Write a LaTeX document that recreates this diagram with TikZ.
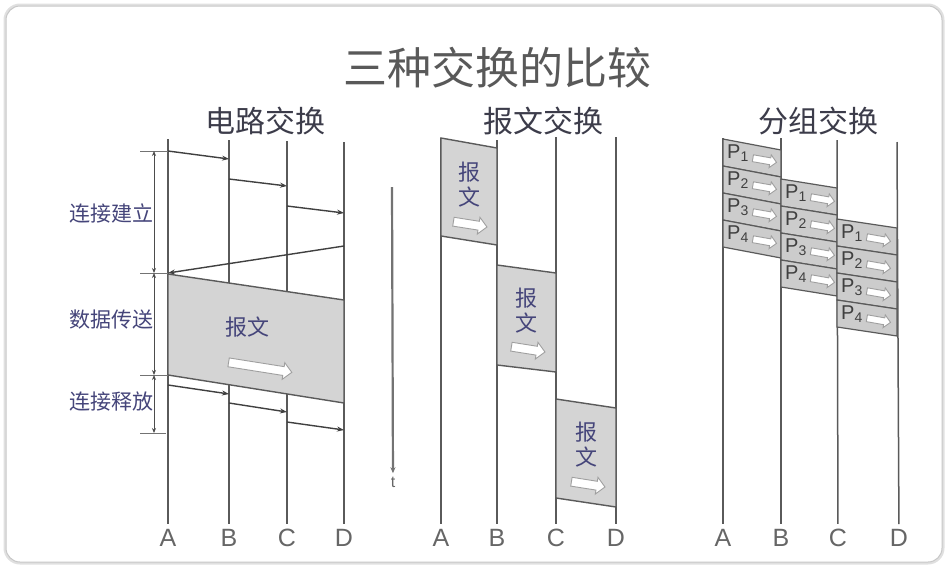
\documentclass[tikz,border=0pt]{standalone}
\usepackage{fontspec}
\setmainfont{Liberation Sans}
\newfontfamily\cjk{Noto Sans CJK SC}
\usetikzlibrary{shapes.arrows, arrows.meta}

\definecolor{linegray}{HTML}{5A5A5A}
\definecolor{labelblue}{HTML}{45457A}
\definecolor{headgray}{HTML}{3C3C4A}

\tikzset{
    timeline/.style={draw=linegray, line width=1.5pt},
    msgbox/.style={draw=linegray, fill=black!17, line width=1.4pt},
    pktbox/.style={draw=linegray, fill=black!20, line width=1.2pt},
    sig/.style={-{Stealth[length=7pt, width=5pt]}, draw=black!75, line width=1.4pt},
    dim/.style={{Stealth[length=5pt, width=4pt]}-{Stealth[length=5pt, width=4pt]}, draw=black!70, line width=1pt},
    tick/.style={draw=black!55, line width=1pt},
    hollow/.style={single arrow, draw=gray!75, fill=white, line width=0.9pt,
        inner xsep=0pt, inner ysep=4pt, single arrow head extend=4pt},
    stn/.style={font=\fontsize{25}{25}\selectfont, text=black!60, inner sep=5pt},
    head/.style={font=\cjk\fontsize{30}{30}\selectfont, text=headgray},
    phase/.style={font=\cjk\fontsize{21}{21}\selectfont, text=labelblue},
    msgtext/.style={font=\cjk\fontsize{22}{25}\selectfont, text=labelblue, align=center},
}

\begin{document}
\begin{tikzpicture}[x=1pt, y=-1pt]
    \useasboundingbox (0,0) rectangle (948,568);
    \draw[black!12, line width=3pt, rounded corners=15pt] (5,5) rectangle (943,563);
    \draw[black!22, line width=1pt, rounded corners=14pt, fill=white] (6,6) rectangle (942,562);

    \node[font=\cjk\fontsize{44}{44}\selectfont, text=black!65] at (497,68) (title) {三种交换的比较};

    % circuit switching
    \node[head] at (265,121) (hcirc) {电路交换};
    \node[stn] at (168,538) (cA) {A};
    \node[stn] at (229,538) (cB) {B};
    \node[stn] at (287,538) (cC) {C};
    \node[stn] at (344,538) (cD) {D};
    \coordinate (cAt) at (168,139);
    \coordinate (cBt) at (229,140);
    \coordinate (cCt) at (287,141);
    \coordinate (cDt) at (344,142);
    \draw[timeline] (cAt) -- (cA);
    \draw[timeline] (cBt) -- (cB);
    \draw[timeline] (cCt) -- (cC);
    \draw[timeline] (cDt) -- (cD);

    \coordinate (set1) at (168,151);
    \coordinate (set2) at (229,159);
    \coordinate (set3) at (229,179);
    \coordinate (set4) at (287,186);
    \coordinate (set5) at (287,206);
    \coordinate (set6) at (344,213);
    \coordinate (ack1) at (344,246);
    \coordinate (ack2) at (168,273);
    \draw[sig] (set1) -- (set2);
    \draw[sig] (set3) -- (set4);
    \draw[sig] (set5) -- (set6);
    \draw[sig] (ack1) -- (ack2);

    \coordinate (band1) at (168,274);
    \coordinate (band2) at (344,300);
    \coordinate (band3) at (344,403);
    \coordinate (band4) at (168,375);
    \draw[msgbox] (band1) -- (band2) -- (band3) -- (band4) -- cycle;
    \node[msgtext] at (247,327) (cmsg) {报文};
    \node[hollow, minimum height=64pt, rotate=-9] at (258,367) (carrow) {};

    \coordinate (rel1) at (168,385);
    \coordinate (rel2) at (229,394);
    \coordinate (rel3) at (229,403);
    \coordinate (rel4) at (287,412);
    \coordinate (rel5) at (287,422);
    \coordinate (rel6) at (344,430);
    \draw[sig] (rel1) -- (rel2);
    \draw[sig] (rel3) -- (rel4);
    \draw[sig] (rel5) -- (rel6);

    \coordinate (d1) at (154,151);
    \coordinate (d2) at (154,273);
    \coordinate (d3) at (154,375);
    \coordinate (d4) at (154,433);
    \draw[tick] (140,151) -- (168,151);
    \draw[tick] (140,273) -- (168,273);
    \draw[tick] (140,375) -- (168,375);
    \draw[tick] (140,433) -- (166,433);
    \draw[dim] (d1) -- (d2);
    \draw[dim] (d2) -- (d3);
    \draw[dim] (d3) -- (d4);
    \node[phase] at (111,213) (setup) {连接建立};
    \node[phase] at (111,320) (xfer) {数据传送};
    \node[phase] at (111,402) (release) {连接释放};

    % message switching
    \node[head] at (543,121) (hmsg) {报文交换};
    \node[stn] at (441,538) (mA) {A};
    \node[stn] at (497,538) (mB) {B};
    \node[stn] at (556,538) (mC) {C};
    \node[stn] at (616,538) (mD) {D};
    \coordinate (mAt) at (441,138);
    \coordinate (mBt) at (497,140);
    \coordinate (mCt) at (556,137);
    \coordinate (mDt) at (616,137);
    \draw[timeline] (mAt) -- (mA);
    \draw[timeline] (mBt) -- (mB);
    \draw[timeline] (mCt) -- (mC);
    \draw[timeline] (mDt) -- (mD);

    \draw[msgbox] (441,138) -- (497,148) -- (497,245) -- (441,236) -- cycle;
    \draw[msgbox] (497,265) -- (556,273) -- (556,372) -- (497,365) -- cycle;
    \draw[msgbox] (556,399) -- (616,408) -- (616,507) -- (556,498) -- cycle;
    \node[msgtext] at (469,185) (msg1) {报\\文};
    \node[msgtext] at (526,311) (msg2) {报\\文};
    \node[msgtext] at (586,445) (msg3) {报\\文};
    \node[hollow, minimum height=34pt, rotate=-9] at (468,224) (marrow1) {};
    \node[hollow, minimum height=34pt, rotate=-9] at (526,349) (marrow2) {};
    \node[hollow, minimum height=34pt, rotate=-9] at (586,484) (marrow3) {};

    \coordinate (tt) at (392,187);
    \node[font=\fontsize{16}{16}\selectfont, text=black!60] at (393,482) (t) {t};
    \draw[-{Stealth[length=6pt, width=5pt]}, draw=black!55, line width=2.2pt] (tt) -- (t);

    % packet switching
    \node[head] at (818,121) (hpkt) {分组交换};
    \node[stn] at (723,538) (pA) {A};
    \node[stn] at (781,538) (pB) {B};
    \node[stn] at (838,538) (pC) {C};
    \node[stn] at (899,538) (pD) {D};
    \coordinate (pAt) at (723,138);
    \coordinate (pBt) at (781,138);
    \coordinate (pCt) at (837,140);
    \coordinate (pDt) at (897,142);
    \draw[timeline] (pAt) -- (pA);
    \draw[timeline] (pBt) -- (pB);
    \draw[timeline] (pCt) -- (pC);
    \draw[timeline] (pDt) -- (pD);

    \foreach \xl/\xr/\yl/\yr [count=\c] in {723/781/139/150, 781/837/179/188, 837/897/219/228} {
        \foreach \i in {1,...,4} {
            \draw[pktbox] (\xl,{\yl+(\i-1)*27}) -- (\xr,{\yr+(\i-1)*27})
                -- (\xr,{\yr+\i*27}) -- (\xl,{\yl+\i*27}) -- cycle;
            \node[font=\fontsize{20}{20}\selectfont, text=black!75, inner sep=0pt]
                at ({\xl+15},{\yl+(\i-0.5)*27+1}) (p\c\i) {P\textsubscript{\i}};
            \node[hollow, minimum height=24pt, inner ysep=3pt, single arrow head extend=3pt, rotate=-10]
                at ({\xl+40},{(\yl+\yr)/2+(\i-0.5)*27+2}) (pa\c\i) {};
        }
    }
\end{tikzpicture}
\end{document}
